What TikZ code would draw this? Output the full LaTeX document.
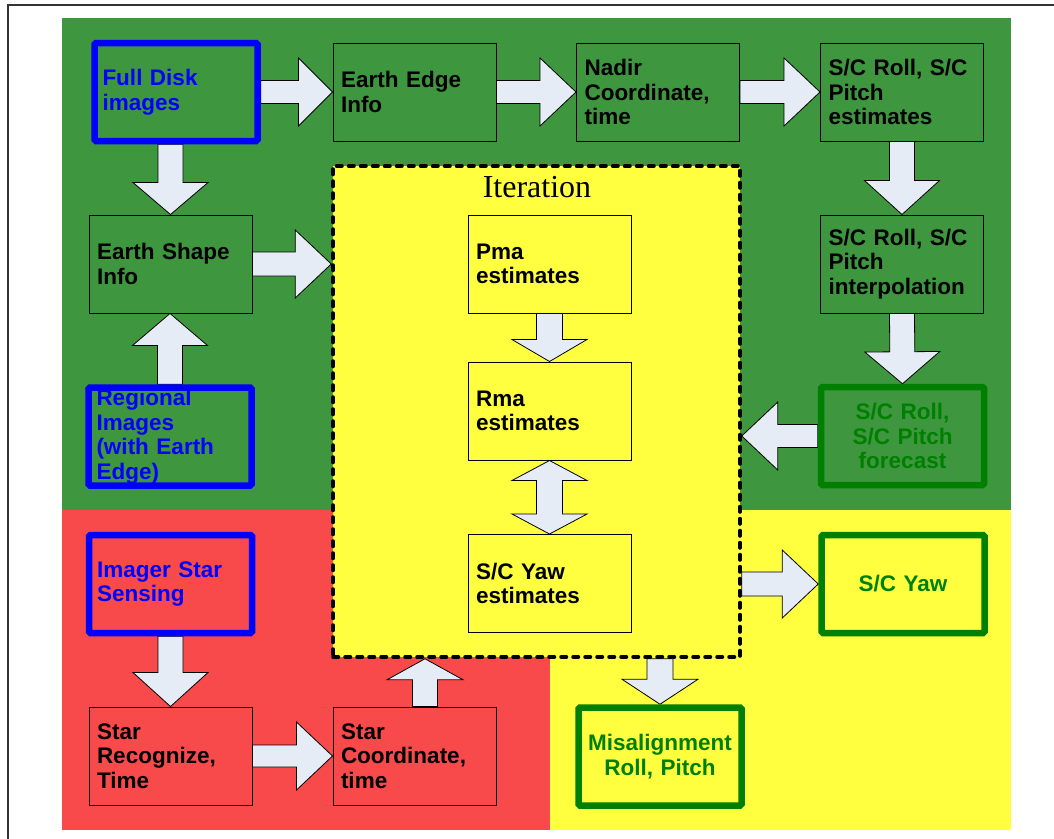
\documentclass[tikz,border=0pt]{standalone}
\usepackage{fontspec}
\setmainfont{Liberation Sans}
\newfontfamily\serifit{Liberation Serif}
\usetikzlibrary{calc}
\definecolor{bggreen}{RGB}{62,150,62}
\definecolor{bgred}{RGB}{248,74,74}
\definecolor{bgyellow}{RGB}{255,255,64}
\definecolor{arrowfill}{RGB}{230,236,246}
\definecolor{boxblue}{RGB}{0,0,255}
\definecolor{boxgreen}{RGB}{0,128,0}
\pgfdeclarelayer{bg}
\pgfdeclarelayer{arr}
\pgfsetlayers{bg,arr,main}
\tikzset{
 every node/.style={font=\fontsize{22.5}{24.5}\selectfont\bfseries},
 plainbox/.style={draw=black, line width=1pt, minimum width=163pt, minimum height=98pt,
   text width=147pt, inner xsep=8pt, inner ysep=0pt, align=left},
 bluebox/.style={plainbox, draw=boxblue, line width=6.5pt, rounded corners=1.5pt, text=boxblue},
 greenbox/.style={plainbox, draw=boxgreen, line width=6.5pt, rounded corners=1.5pt, text=boxgreen, align=center},
 blockarr/.style={draw=black, line width=0.8pt, fill=arrowfill, line join=miter},
 iterbox/.style={draw=black, fill=bgyellow, line width=3.5pt, line cap=round, dash pattern=on 5.5pt off 6.5pt},
}
% #1 start, #2 end, #3 shaft half width, #4 head half width, #5 head length
\newcommand\barrow[5]{%
 \coordinate (bah) at ($(#2)!#5!(#1)$);
 \draw[blockarr] ($(#1)!#3!90:(#2)$) -- ($(bah)!#3!-90:(#1)$) -- ($(bah)!#4!-90:(#1)$) -- (#2)
   -- ($(bah)!#4!90:(#1)$) -- ($(bah)!#3!90:(#1)$) -- ($(#1)!#3!-90:(#2)$) -- cycle;}
\newcommand\dbarrow[5]{%
 \coordinate (bahA) at ($(#1)!#5!(#2)$);
 \coordinate (bahB) at ($(#2)!#5!(#1)$);
 \draw[blockarr] (#1) -- ($(bahA)!#4!90:(#2)$) -- ($(bahA)!#3!90:(#2)$) -- ($(bahB)!#3!-90:(#1)$)
   -- ($(bahB)!#4!-90:(#1)$) -- (#2) -- ($(bahB)!#4!90:(#1)$) -- ($(bahB)!#3!90:(#1)$)
   -- ($(bahA)!#3!-90:(#2)$) -- ($(bahA)!#4!-90:(#2)$) -- cycle;}
\begin{document}
\begin{tikzpicture}[x=1pt,y=-1pt]
\useasboundingbox (0,0) rectangle (1054,838);
\begin{pgfonlayer}{bg}
 \fill[white] (0,0) rectangle (1054,838);
 \fill[bggreen] (62,18) rectangle (1011,510);
 \fill[bgred] (62,510) rectangle (550,830);
 \fill[bgyellow] (550,510) rectangle (1011,830);
 \node[iterbox, minimum width=407pt, minimum height=491pt, inner sep=0pt] (it) at (536.5,411.5) {};
\end{pgfonlayer}
\draw[line width=1.8pt, black!80] (1060,5) -- (8,5) -- (8,845);
\node[font=\fontsize{32}{36}\selectfont\serifit, anchor=base] (itl) at (537,197) {Iteration};
% nodes
\node[bluebox] (fd) at (176,92) {Full Disk\\images};
\node[plainbox] (ee) at (414.5,92) {Earth Edge\\Info};
\node[plainbox] (nc) at (658,92) {Nadir\\Coordinate,\\time};
\node[plainbox] (re) at (902,92) {S/C Roll, S/C\\Pitch\\estimates};
\node[plainbox] (es) at (170.5,264) {Earth Shape\\Info};
\node[plainbox] (ri) at (902,264) {S/C Roll, S/C\\Pitch\\interpolation};
\node[bluebox] (rg) at (170,436.5) {Regional\\Images\\(with Earth\\Edge)};
\node[greenbox] (fc) at (902.5,436) {S/C Roll,\\S/C Pitch\\forecast};
\node[bluebox] (is) at (170.5,584) {Imager Star\\Sensing};
\node[plainbox] (sr) at (170.5,756) {Star\\Recognize,\\Time};
\node[plainbox] (sc) at (414.5,756) {Star\\Coordinate,\\time};
\node[greenbox] (ma) at (660,756.5) {Misalignment\\Roll, Pitch};
\node[greenbox] (sy) at (903,584) {S/C Yaw};
\node[plainbox] (pm) at (549.5,264) {Pma\\estimates};
\node[plainbox] (rm) at (549.5,411) {Rma\\estimates};
\node[plainbox] (ye) at (549.5,583.5) {S/C Yaw\\estimates};
\coordinate (scup) at ($(sc.north)+(10.5,0)$);
% arrows
\begin{pgfonlayer}{arr}
 \barrow{fd.east}{ee.west}{11.5pt}{34pt}{34pt}
 \barrow{ee.east}{nc.west}{11.5pt}{34pt}{36pt}
 \barrow{nc.east}{re.west}{11.5pt}{34pt}{36pt}
 \barrow{es.north |- fd.south}{es.north}{12.5pt}{37.5pt}{32pt}
 \barrow{es.east}{es.east -| it.west}{12pt}{34pt}{36pt}
 \barrow{re.south}{ri.north}{12.5pt}{37.5pt}{34pt}
 \barrow{ri.south}{fc.north}{12.5pt}{37.5pt}{32pt}
 \barrow{fc.west}{fc.west -| it.east}{11.5pt}{34pt}{36pt}
 \barrow{rg.north}{rg.north |- es.south}{12.5pt}{37.5pt}{32pt}
 \barrow{pm.south}{rm.north}{13pt}{37.5pt}{22pt}
 \dbarrow{rm.south}{ye.north}{13pt}{37.5pt}{20pt}
 \barrow{sy.west -| it.east}{sy.west}{12pt}{34pt}{36pt}
 \barrow{is.south}{sr.north}{12.5pt}{37.5pt}{34pt}
 \barrow{sr.east}{sc.west}{11pt}{34pt}{36pt}
 \barrow{scup}{scup |- it.south}{12.5pt}{38pt}{21pt}
 \barrow{ma.north |- it.south}{ma.north}{13pt}{38pt}{25pt}
\end{pgfonlayer}
\end{tikzpicture}
\end{document}
